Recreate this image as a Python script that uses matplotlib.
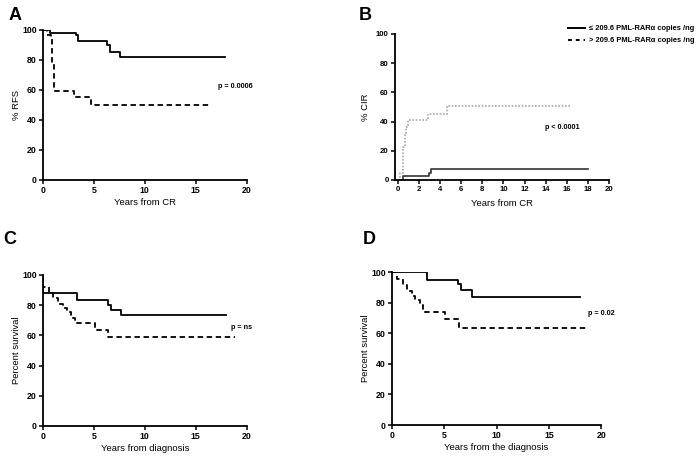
import matplotlib
matplotlib.use("Agg")
import matplotlib.pyplot as plt
from matplotlib.lines import Line2D

plt.rcParams['font.family'] = ['Liberation Sans', 'DejaVu Sans']
plt.rcParams['font.weight'] = 'bold'

# panel A - relapse free survival
a_low_t = [0, 0.65, 3.2, 3.4, 6.3, 6.6, 7.55, 17.9]
a_low_s = [100, 98, 96.5, 92.8, 90, 85.5, 81.8, 81.8]
a_high_t = [0, 0.4, 0.8, 0.9, 1.1, 3.0, 4.7, 16.4]
a_high_s = [100, 96.5, 94, 78, 59.5, 55, 50, 50]

# panel B - cumulative incidence of relapse
b_low_t = [0.3, 0.5, 2.9, 3.15, 18.0]
b_low_v = [0, 2.5, 5, 7.5, 7.5]
b_high_t = [0.1, 0.2, 0.47, 0.62, 0.75, 0.93, 2.85, 4.6, 16.3]
b_high_v = [0, 4.5, 22.7, 31.8, 36.4, 40.9, 45.5, 50.4, 50.4]

# panel C - overall survival
c_low_t = [0, 0.05, 3.35, 6.35, 6.7, 7.65, 18.0]
c_low_s = [100, 88, 83.3, 80, 77, 73.7, 73.7]
c_high_t = [0, 0.05, 0.55, 1.0, 1.5, 1.95, 2.35, 2.8, 3.1, 5.1, 6.4, 18.85]
c_high_s = [100, 92, 88, 84.5, 81, 78, 75.5, 71.5, 68, 63.5, 58.7, 58.7]

# panel D - overall survival from diagnosis
d_low_t = [0, 3.35, 6.3, 6.6, 7.65, 17.95]
d_low_s = [100, 95, 92, 88.5, 84, 84]
d_high_t = [0, 0.45, 1.05, 1.4, 1.9, 2.2, 2.7, 3.0, 5.1, 6.4, 18.65]
d_high_s = [100, 95.5, 91.5, 88, 84.5, 82, 78.5, 74, 69.5, 63.6, 63.6]

legend_labels = ['\u2264 209.6 PML-RAR\u03b1 copies /ng', '> 209.6 PML-RAR\u03b1 copies /ng']

fig = plt.figure(figsize=(7, 4.59), dpi=100)

def style(ax, xmax, xticks):
    ax.spines['top'].set_visible(False)
    ax.spines['right'].set_visible(False)
    for s in ['left', 'bottom']:
        ax.spines[s].set_linewidth(1.3)
    ax.set_xlim(0, xmax)
    ax.set_ylim(0, 100)
    ax.set_xticks(xticks)
    ax.set_yticks([0, 20, 40, 60, 80, 100])
    ax.tick_params(labelsize=6.3, length=3, width=1.1, pad=1.5)
    for lab in ax.get_xticklabels() + ax.get_yticklabels():
        lab.set_fontweight('bold')

dash = (0, (3, 2))

axA = fig.add_axes([0.0614, 0.608, 0.291, 0.327])
axA.step(a_low_t, a_low_s, where='post', color='black', lw=1.3)
axA.step(a_high_t, a_high_s, where='post', color='black', lw=1.3, ls=dash)
style(axA, 20, [0, 5, 10, 15, 20])
axA.set_xlabel('Years from CR', fontsize=6.8, labelpad=2)
axA.set_ylabel('% RFS', fontsize=6.8, labelpad=1)
axA.text(17.2, 62, 'p = 0.0006', fontsize=5.2, va='center')

axB = fig.add_axes([0.564, 0.608, 0.306, 0.318])
axB.step(b_low_t, b_low_v, where='post', color='#333333', lw=1.2)
axB.step(b_high_t, b_high_v, where='post', color='#a8a8a8', lw=1.2, ls=(0, (1, 1)))
style(axB, 20, list(range(0, 21, 2)))
axB.set_xlim(-0.3, 20)
axB.tick_params(labelsize=5.6)
axB.set_xlabel('Years from CR', fontsize=6.8, labelpad=4)
axB.set_ylabel('% CIR', fontsize=6.8, labelpad=4)
axB.text(13.9, 36, 'p < 0.0001', fontsize=5.2, va='center')

handles = [Line2D([], [], color='black', lw=1.4),
           Line2D([], [], color='black', lw=1.4, ls=(0, (2, 2)))]
fig.legend(handles, legend_labels, loc='upper left', bbox_to_anchor=(0.812, 0.945),
           frameon=False, fontsize=5.4, handlelength=2.2, handletextpad=0.5,
           labelspacing=0.6, borderaxespad=0, borderpad=0)

axC = fig.add_axes([0.0614, 0.0719, 0.291, 0.329])
axC.step(c_low_t, c_low_s, where='post', color='black', lw=1.3)
axC.step(c_high_t, c_high_s, where='post', color='black', lw=1.3, ls=dash)
style(axC, 20, [0, 5, 10, 15, 20])
axC.set_xlabel('Years from diagnosis', fontsize=6.8, labelpad=2)
axC.set_ylabel('Percent survival', fontsize=6.8, labelpad=1)
axC.text(18.5, 65, 'p = ns', fontsize=5.2, va='center')

axD = fig.add_axes([0.56, 0.074, 0.299, 0.333])
axD.step(d_low_t, d_low_s, where='post', color='black', lw=1.3)
axD.step(d_high_t, d_high_s, where='post', color='black', lw=1.3, ls=dash)
style(axD, 20, [0, 5, 10, 15, 20])
axD.set_xlabel('Years from the diagnosis', fontsize=6.8, labelpad=2)
axD.set_ylabel('Percent survival', fontsize=6.8, labelpad=1)
axD.text(18.7, 73, 'p = 0.02', fontsize=5.2, va='center')

for label, x, y in [('A', 0.012, 0.985), ('B', 0.513, 0.985), ('C', 0.004, 0.497), ('D', 0.518, 0.497)]:
    fig.text(x, y, label, fontsize=13, fontweight='bold', va='top')

fig.savefig('out.png', dpi=100)
